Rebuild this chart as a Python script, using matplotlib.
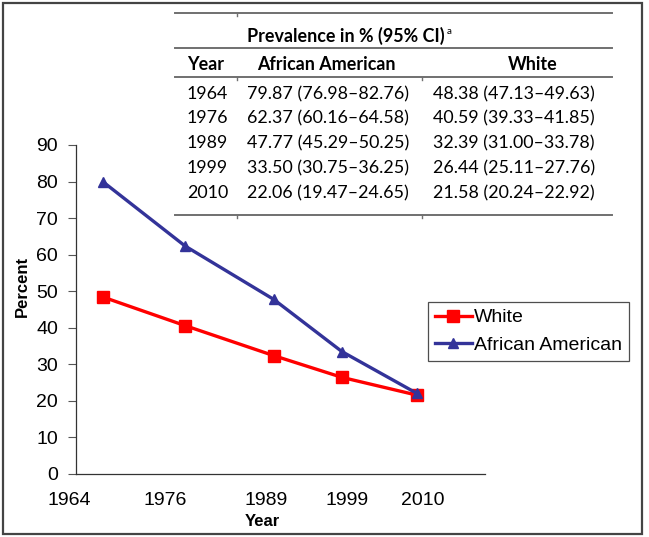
import matplotlib
matplotlib.use("Agg")
import matplotlib.pyplot as plt
from matplotlib.lines import Line2D
from matplotlib.patches import Rectangle
from matplotlib.transforms import ScaledTranslation

# ---- data ----
years = [1964, 1976, 1989, 1999, 2010]
white = [48.38, 40.59, 32.39, 26.44, 21.58]
white_lo = [47.13, 39.33, 31.00, 25.11, 20.24]
white_hi = [49.63, 41.85, 33.78, 27.76, 22.92]
african_american = [79.87, 62.37, 47.77, 33.50, 22.06]
aa_lo = [76.98, 60.16, 45.29, 30.75, 19.47]
aa_hi = [82.76, 64.58, 50.25, 36.25, 24.65]
xtick_labels = ["1964", "1976", "1989", "1999", "2010"]
yticks = [0, 10, 20, 30, 40, 50, 60, 70, 80, 90]

W, H = 649, 537
fig = plt.figure(figsize=(W / 100, H / 100), dpi=100)

def fx(px):
    return px / W

def fy(py):
    return 1 - py / H

AX_FONT = "Liberation Sans"
TB_FONT = "Lato"
TB_SIZE = 12.9

ax = fig.add_axes([fx(76), fy(474), fx(485) - fx(76), fy(145) - fy(474)])
ax.plot(years, white, color="#ff0000", lw=2.4, marker="s", ms=9,
        label="White", zorder=3)
ax.plot(years, african_american, color="#333399", lw=2.4, marker="^", ms=7,
        label="African American", zorder=4)
ax.set_xlim(1960, 2020)
ax.set_ylim(0, 90)
ax.set_yticks(yticks)
ax.set_yticklabels([str(v) for v in yticks], fontfamily=AX_FONT, fontsize=14)
ax.set_xticks(years)
ax.set_xticklabels(xtick_labels, fontfamily=AX_FONT, fontsize=14)
ax.tick_params(axis="x", length=0, pad=13)
ax.tick_params(axis="y", length=6, width=0.8, direction="out", pad=7,
               color="#555555")
# the original's year labels sit offset from the data points (pixels)
label_shift_px = [-34, -20, -8, 5, 6]
for lab, dpx in zip(ax.get_xticklabels(), label_shift_px):
    lab.set_transform(lab.get_transform() +
                      ScaledTranslation(dpx / 100, 0, fig.dpi_scale_trans))
for s in ["top", "right"]:
    ax.spines[s].set_visible(False)
for s in ["left", "bottom"]:
    ax.spines[s].set_color("#333333")
    ax.spines[s].set_linewidth(0.9)

fig.text(fx(22), fy(286), "Percent", rotation=90, ha="center", va="center",
         fontfamily=AX_FONT, fontweight="bold", fontsize=12)
fig.text(fx(262), fy(522), "Year", ha="center", va="center",
         fontfamily=AX_FONT, fontweight="bold", fontsize=12)

leg = ax.legend(loc="upper left", bbox_to_anchor=(fx(428), fy(302)),
                bbox_transform=fig.transFigure,
                prop={"family": AX_FONT, "size": 14}, frameon=True,
                fancybox=False, edgecolor="#222222", handlelength=1.9,
                handletextpad=0.12, borderpad=0.35, labelspacing=0.5,
                borderaxespad=0)
leg.get_frame().set_linewidth(0.9)

# ---- table drawn as text ----
line_kw = dict(color="#707070", lw=1.4, transform=fig.transFigure)
for y in [13, 48, 77, 215]:
    fig.add_artist(Line2D([fx(175), fx(612)], [fy(y), fy(y)], **line_kw))
tick_kw = dict(color="#707070", lw=1.0, transform=fig.transFigure)
fig.add_artist(Line2D([fx(237), fx(237)], [fy(13), fy(16)], **tick_kw))
for y in [77, 215]:
    for x in [237, 422]:
        fig.add_artist(Line2D([fx(x), fx(x)], [fy(y), fy(y + 3)], **tick_kw))

hdr = fig.text(fx(247), fy(36), "Prevalence in % (95% CI)", ha="left",
               va="center", fontfamily=TB_FONT, fontweight="bold",
               fontsize=TB_SIZE)
fig.add_artist(plt.Annotation("a", xy=(1, 1), xycoords=hdr,
                              xytext=(1.5, -3), textcoords="offset points",
                              ha="left", va="center", fontfamily=TB_FONT,
                              fontsize=7))
fig.text(fx(187), fy(64), "Year", ha="left", va="center",
         fontfamily=TB_FONT, fontweight="bold", fontsize=TB_SIZE)
fig.text(fx(326), fy(64), "African American", ha="center", va="center",
         fontfamily=TB_FONT, fontweight="bold", fontsize=TB_SIZE)
fig.text(fx(533), fy(64), "White", ha="center", va="center",
         fontfamily=TB_FONT, fontweight="bold", fontsize=TB_SIZE)

row_y = [94, 118, 143, 168, 193]
for i, yr in enumerate(years):
    yy = fy(row_y[i])
    fig.text(fx(187), yy, str(yr), ha="left", va="center",
             fontfamily=TB_FONT, fontsize=TB_SIZE)
    fig.text(fx(247), yy,
             f"{african_american[i]:.2f} ({aa_lo[i]:.2f}\u2013{aa_hi[i]:.2f})",
             ha="left", va="center", fontfamily=TB_FONT, fontsize=TB_SIZE)
    fig.text(fx(433), yy,
             f"{white[i]:.2f} ({white_lo[i]:.2f}\u2013{white_hi[i]:.2f})",
             ha="left", va="center", fontfamily=TB_FONT, fontsize=TB_SIZE)

# ---- outer frame ----
fig.add_artist(Rectangle((fx(3), fy(534)), fx(642) - fx(3), fy(3) - fy(534),
                         transform=fig.transFigure, fill=False,
                         edgecolor="#444444", lw=1.6))

fig.savefig("out.png", dpi=100)
